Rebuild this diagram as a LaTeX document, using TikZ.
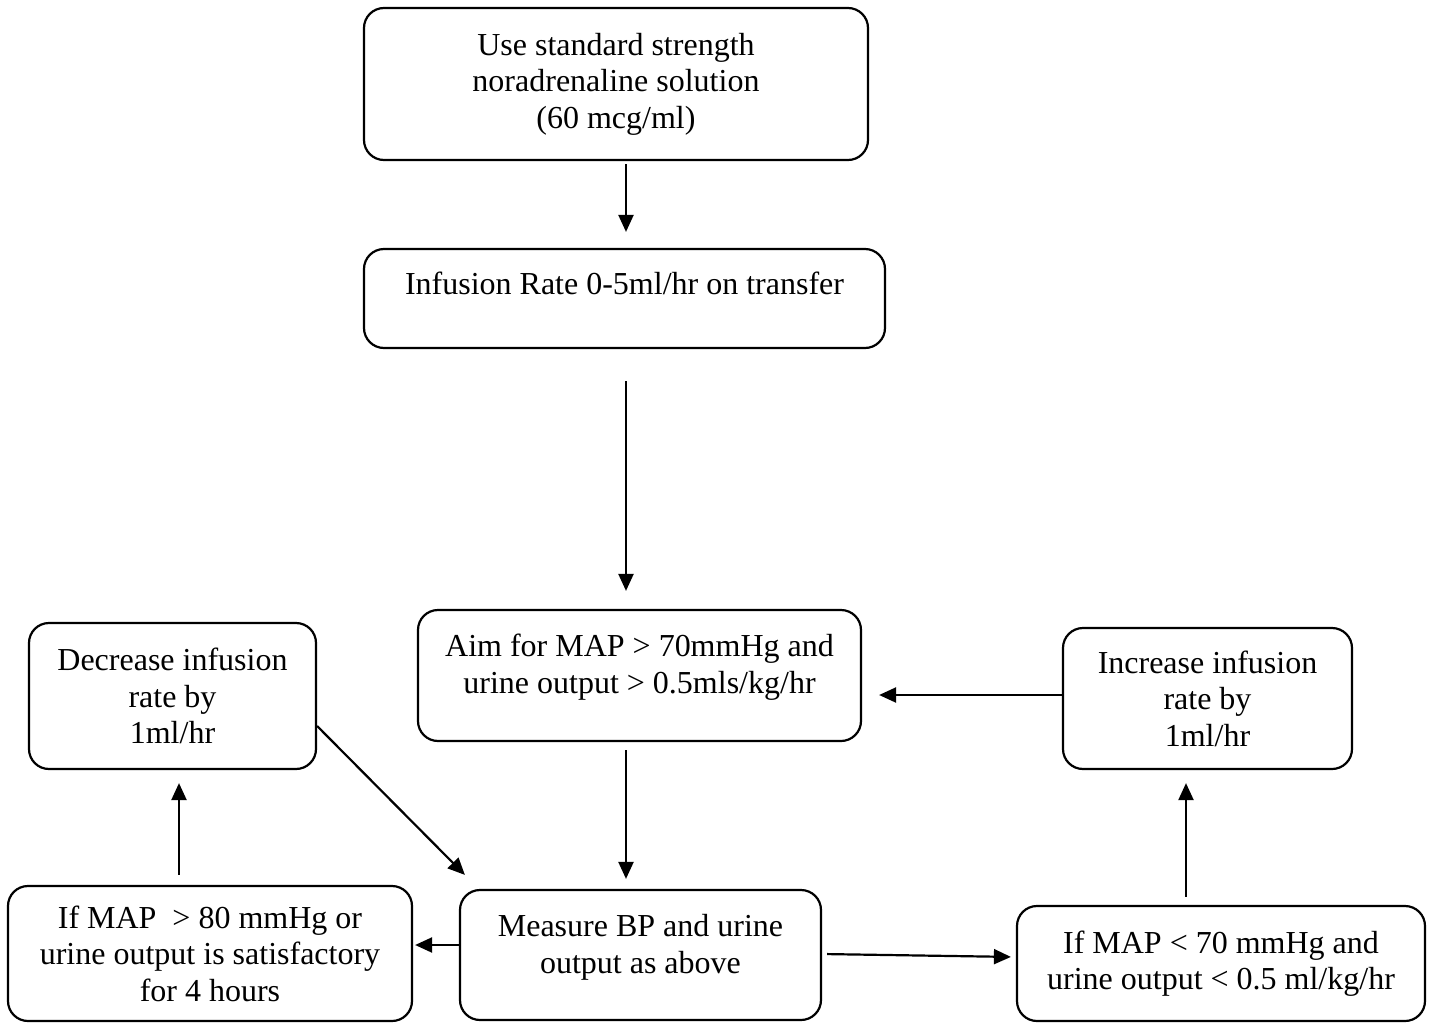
\documentclass[tikz,border=0pt]{standalone}
\usepackage{fontspec}
\setmainfont{Liberation Serif}
\usepackage{tikz}
\usetikzlibrary{arrows.meta}
\usetikzlibrary{positioning}
\tikzstyle{stepbox}=[draw=black,line width=1.1pt,rounded corners=10pt,align=center,
                inner sep=2pt,font=\fontsize{16}{18.25}\selectfont]
\tikzstyle{flow}=[line width=1.1pt,-{Triangle[length=8.5pt,width=7.5pt]}]
\newcommand{\lowgap}[1]{\rule[-#1]{0pt}{0pt}}

\begin{document}
\begin{tikzpicture}[x=0.5pt,y=-0.5pt]
\useasboundingbox (0,0) rectangle (1432,1023);
\node[stepbox,minimum width=252pt,minimum height=76pt] (solution) at (616,84)
  {Use standard strength\\noradrenaline solution\\(60 mcg/ml)};
\node[stepbox,minimum width=260.5pt,minimum height=49.5pt] (rate) at (624.5,298.5)
  {Infusion Rate 0-5ml/hr on transfer\lowgap{15.5pt}};
\node[stepbox,minimum width=221.5pt,minimum height=65.5pt] (aim) at (639.5,675.5)
  {Aim for MAP > 70mmHg and\\urine output > 0.5mls/kg/hr\lowgap{11.75pt}};
\node[stepbox,minimum width=143.5pt,minimum height=73pt] (dec) at (172.5,696)
  {Decrease infusion\\rate by\\1ml/hr};
\node[stepbox,minimum width=144.5pt,minimum height=70.5pt] (inc) at (1207.5,698.5)
  {Increase infusion\\rate by\\1ml/hr};
\node[stepbox,minimum width=180.5pt,minimum height=65pt] (measure) at (640.5,955)
  {Measure BP and urine\\output as above\lowgap{11.25pt}};
\node[stepbox,minimum width=202pt,minimum height=67.5pt] (high) at (210,953.5)
  {If MAP\ \ > 80 mmHg or\\urine output is satisfactory\\for 4 hours};
\node[stepbox,minimum width=204pt,minimum height=57.5pt] (low) at (1221,963.5)
  {If MAP < 70 mmHg and\\urine output < 0.5 ml/kg/hr};

\draw[flow,shorten <=1.5pt,shorten >=8pt] ([xshift=5pt]solution.south) -- ([xshift=0.75pt]rate.north);
\draw[flow,shorten <=16pt,shorten >=9pt] ([xshift=0.75pt]rate.south) -- ([xshift=-6.75pt]aim.north);
\draw[flow,shorten <=4pt,shorten >=5pt] ([xshift=-6.75pt]aim.south) -- ([xshift=-7.25pt]measure.north);
\draw[flow,shorten >=8.5pt] ([yshift=1.75pt]inc.west) -- ([yshift=-9.75pt]aim.east);
\draw[flow,shorten >=1pt] ([yshift=5pt]measure.west) -- ([yshift=4.25pt]high.east);
\draw[flow,shorten <=5pt,shorten >=6.5pt] ([xshift=-15.5pt]high.north) -- ([xshift=3.25pt]dec.south);
\draw[flow] ([yshift=-15pt]dec.east) -- ([shift={(3pt,7pt)}]measure.north west);
\draw[flow,shorten <=2.5pt,shorten >=2.5pt] ([yshift=0.5pt]measure.east) -- ([yshift=3.25pt]low.west);
\draw[flow,shorten <=4pt,shorten >=6.5pt] ([xshift=-17.5pt]low.north) -- ([xshift=-10.75pt]inc.south);
\end{tikzpicture}
\end{document}
